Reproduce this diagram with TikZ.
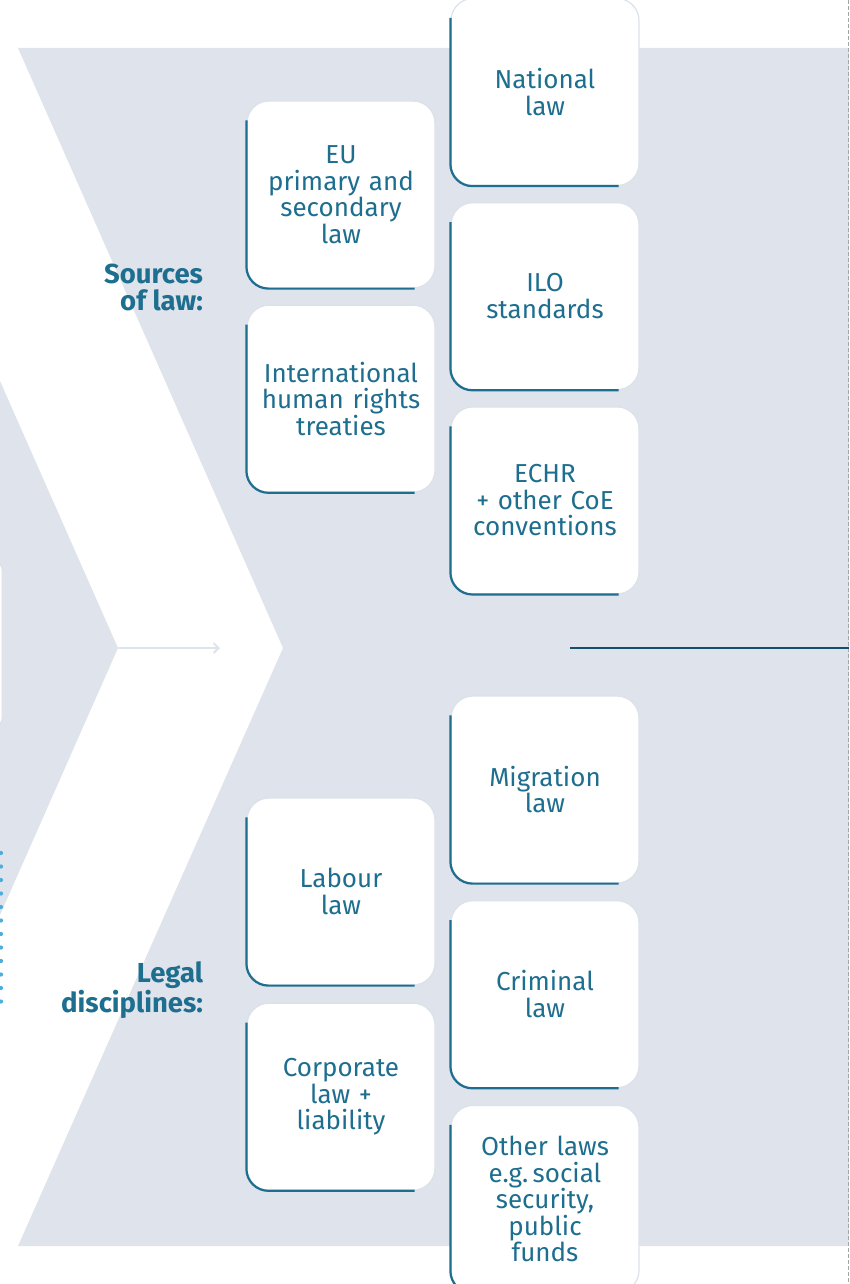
\documentclass[tikz,border=0pt]{standalone}
\usepackage{fontspec}
\setmainfont{Fira Sans}
\usepackage{tikz}
\usetikzlibrary{positioning,arrows.meta,calc}
\definecolor{bandgrey}{HTML}{DFE3EB}
\definecolor{lawblue}{HTML}{1E6E8F}
\definecolor{darkline}{HTML}{134E6C}
\definecolor{boxedge}{HTML}{DCE2EA}
\definecolor{dotblue}{HTML}{4DAEDD}

\begin{document}
\begin{tikzpicture}[x=1pt, y=-1pt,
	lawbox/.style={rectangle, rounded corners=22pt, fill=white, draw=boxedge, line width=1.2pt, minimum width=188pt, minimum height=187pt, inner sep=0pt, text width=184pt, align=center, text=lawblue, font=\fontsize{26}{26.5}\selectfont},
	accent/.style={draw=lawblue, line width=2.2pt, rounded corners=22pt},
	grouplabel/.style={align=right, anchor=east, text=lawblue, font=\fontsize{27.5}{27}\selectfont\bfseries}]
	\useasboundingbox (0,0) rectangle (849,1284);

	% background band and chevrons
	\fill[bandgrey] (18,48) -- (849,48) -- (849,1246) -- (18,1246) -- (283,648) -- cycle;
	\fill[bandgrey] (0,381) -- (118,648) -- (0,915) -- cycle;
	\draw[boxedge, fill=white, line width=1pt, rounded corners=6pt] (-10,563) rectangle (2,725);
	\draw[dotblue, line width=4.2pt, line cap=round, dash pattern=on 0pt off 13.5pt] (1,853) -- (1,1015);
	\draw[gray!70, line width=0.8pt, dash pattern=on 4pt off 2pt] (848,0) -- (848,1284);

	\coordinate (tip) at (118,648);
	\coordinate (tipend) at (220,648);
	\coordinate (sepstart) at (570,648);
	\coordinate (sepend) at (849,648);
	\draw[bandgrey, line width=2pt, -{Straight Barb[length=5pt, width=10pt]}] (tip) -- (tipend);
	\draw[darkline, line width=2.4pt] (sepstart) -- (sepend);

	% sources of law
	\node[lawbox] (nat) at (545,92) {National\\law};
	\node[lawbox, below=16pt of nat] (ilo) {ILO\\standards};
	\node[lawbox, below=16pt of ilo] (echr) {ECHR\\+ other CoE\\conventions};
	\node[lawbox] (eu) at (341,194.5) {EU\\primary and\\secondary\\law};
	\node[lawbox, below=16pt of eu] (ihr) {International\\human rights\\treaties};
	\node[grouplabel] (src) at (206.5,287) {Sources\\of law:};

	% legal disciplines
	\node[lawbox] (mig) at (545,789.5) {Migration\\law};
	\node[lawbox, below=16.5pt of mig] (crim) {Criminal\\law};
	\node[lawbox, below=16.5pt of crim] (oth) {Other laws\\e.g.\,social\\security,\\public\\funds};
	\node[lawbox] (lab) at (341,891.5) {Labour\\law};
	\node[lawbox, below=17pt of lab] (corp) {Corporate\\law +\\liability};
	\node[grouplabel] (disc) at (206.5,990) {Legal\\disciplines:};

	\foreach \b in {nat,ilo,echr,eu,ihr,mig,crim,oth,lab,corp}
		\draw[accent] ([yshift=-20pt]\b.north west) -- (\b.south west) -- ([xshift=-21pt]\b.south east);
\end{tikzpicture}
\end{document}
